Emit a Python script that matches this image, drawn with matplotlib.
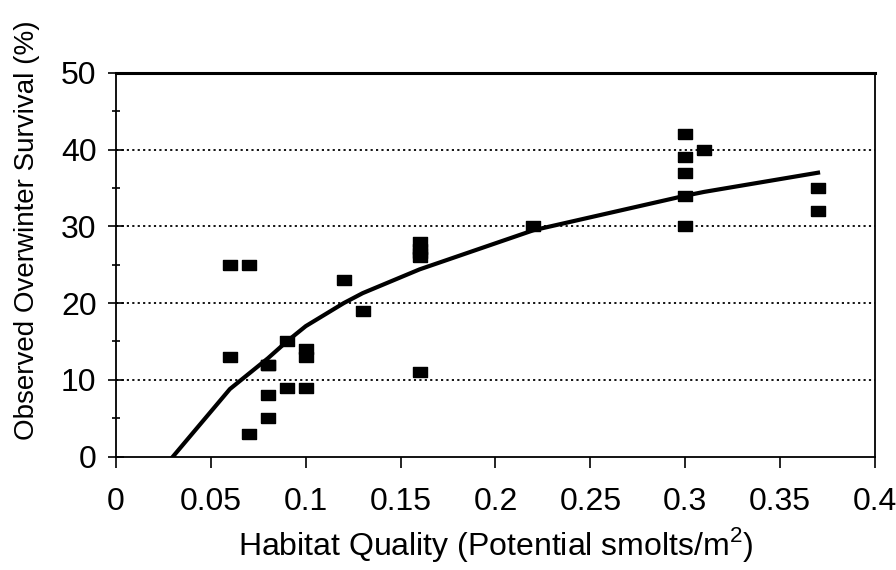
import matplotlib
matplotlib.use('Agg')
import matplotlib.pyplot as plt
from matplotlib.ticker import MultipleLocator

plt.rcParams['font.family'] = ['Liberation Sans', 'DejaVu Sans']
plt.rcParams['mathtext.fontset'] = 'custom'
plt.rcParams['mathtext.rm'] = 'Liberation Sans'

# observed points (habitat quality, survival %)
obs_x = [0.06, 0.07, 0.06, 0.07, 0.08, 0.08, 0.08, 0.08, 0.09, 0.09,
         0.10, 0.10, 0.10, 0.12, 0.13, 0.16, 0.16, 0.16, 0.16, 0.16,
         0.22, 0.30, 0.30, 0.30, 0.30, 0.30, 0.31, 0.37, 0.37]
obs_y = [25, 25, 13, 3, 12, 8, 5, 12, 15, 9,
         14, 13, 9, 23, 19, 28, 27, 26, 26.5, 11,
         30, 42, 39, 37, 34, 30, 40, 35, 32]

# fitted curve
fit_x = [0.03, 0.06, 0.07, 0.08, 0.09, 0.10, 0.12, 0.13, 0.16, 0.22, 0.30, 0.31, 0.37]
fit_y = [0, 8.8, 10.8, 12.8, 15.0, 17.0, 20.0, 21.3, 24.4, 29.5, 34.0, 34.5, 37.0]

xticks = [0, 0.05, 0.1, 0.15, 0.2, 0.25, 0.3, 0.35, 0.4]
xtick_labels = ['0', '0.05', '0.1', '0.15', '0.2', '0.25', '0.3', '0.35', '0.4']

fig = plt.figure(figsize=(8.96, 5.70), dpi=100)
ax = fig.add_axes([0.1295, 0.199, 0.847, 0.673])

# dotted gridlines
for g in [10, 20, 30, 40]:
    ax.axhline(g, color='black', linestyle=(0, (1.2, 1.8)), linewidth=1.3, zorder=1)

rect = [(-1.3, -1), (1.3, -1), (1.3, 1), (-1.3, 1), (-1.3, -1)]
ax.plot(obs_x, obs_y, linestyle='none', marker=rect, markersize=9.5,
        color='black', zorder=3)
ax.plot(fit_x, fit_y, color='black', linewidth=3, zorder=2)

ax.set_xlim(0, 0.4)
ax.set_ylim(0, 50)
ax.set_xticks(xticks, xtick_labels)
ax.yaxis.set_major_locator(MultipleLocator(10))
ax.yaxis.set_minor_locator(MultipleLocator(5))

ax.tick_params(axis='x', direction='out', length=8, width=1.2, labelsize=23, pad=14)
ax.tick_params(axis='y', which='major', direction='inout', length=12, width=1.2,
               labelsize=23, pad=8)
ax.tick_params(axis='y', which='minor', direction='inout', length=6, width=1.2)

for s in ['left', 'bottom', 'right']:
    ax.spines[s].set_linewidth(1.3)
ax.spines['top'].set_linewidth(2.2)

ax.set_xlabel('Habitat Quality (Potential smolts/m$^{2}$)', fontsize=23, labelpad=6)
ax.set_ylabel('Observed Overwinter Survival (%)', fontsize=20)
ax.yaxis.set_label_coords(-0.100, 0.59)

fig.savefig('out.png', dpi=100)
